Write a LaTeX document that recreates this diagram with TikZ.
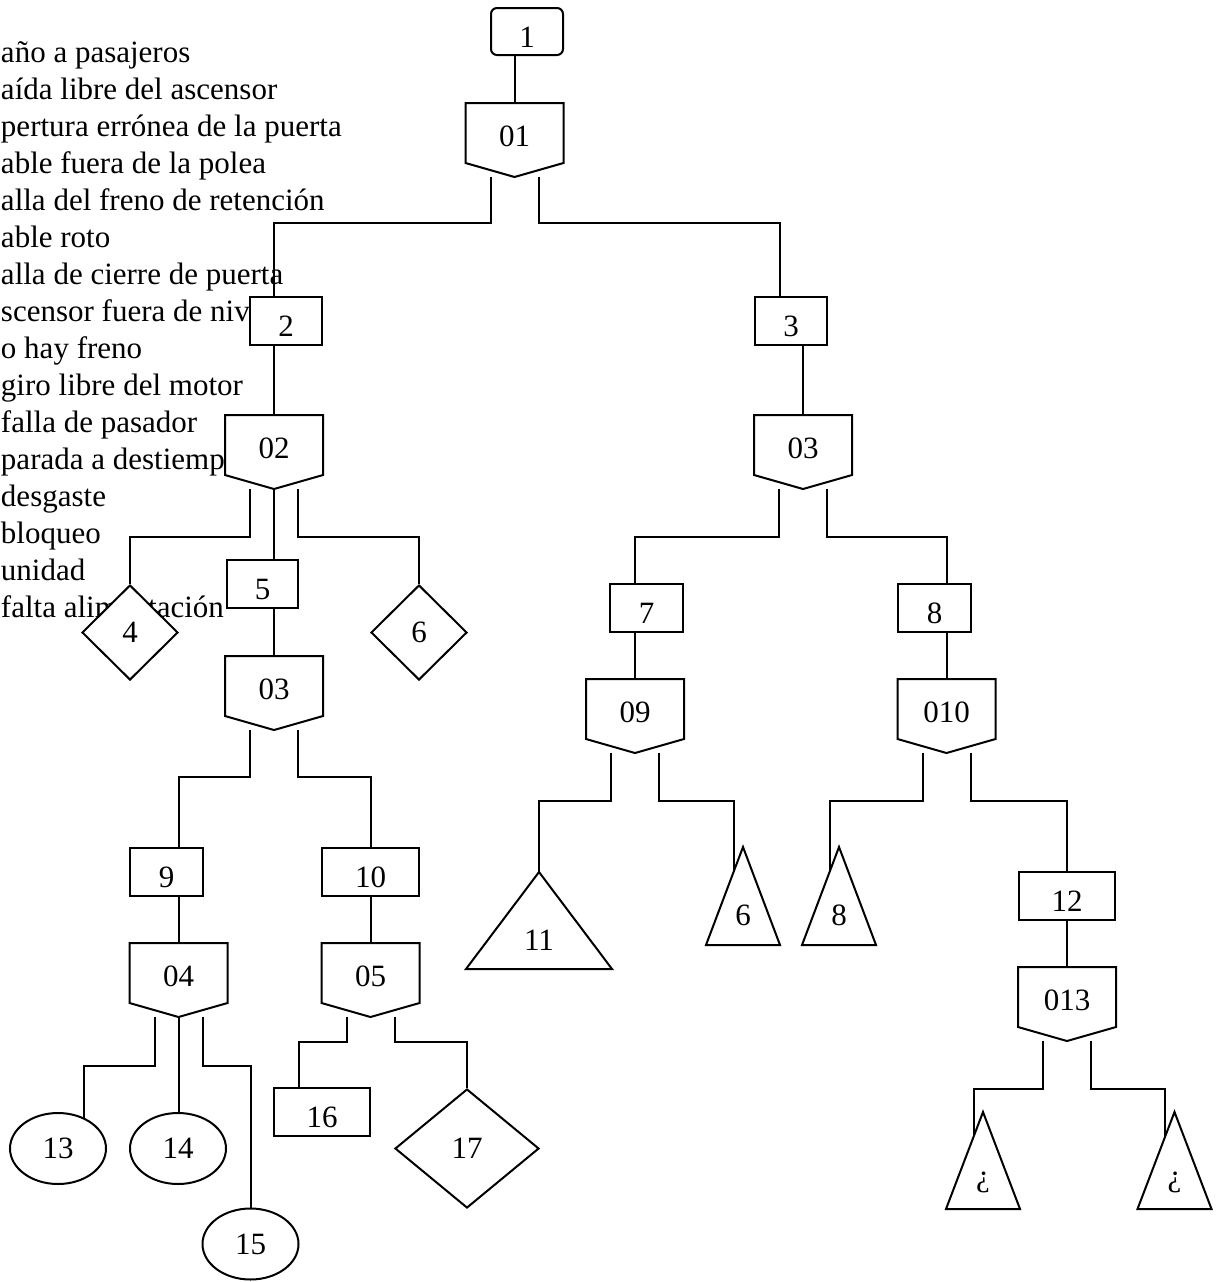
\documentclass[tikz,border=0pt]{standalone}
\usepackage{fontspec}
\setmainfont{Liberation Serif}
\usetikzlibrary{shapes.geometric,calc}

\begin{document}
\begin{tikzpicture}[x=1pt,y=-1pt,line width=2pt,
    every node/.style={font=\fontsize{31}{37}\selectfont,inner sep=0pt},
    legend/.style={anchor=base west},
    event/.style={draw,fill=white,minimum height=48pt,text height=31pt},
    gate/.style={fill=white,minimum width=96pt,minimum height=58pt,text height=27pt},
    basic/.style={draw,ellipse,fill=white,minimum width=96pt,minimum height=71pt},
    undev/.style={draw,diamond,fill=white,minimum width=96pt,minimum height=95pt},
    transfer/.style={minimum width=72pt,minimum height=96pt,text height=59pt}]

  \useasboundingbox (0,0) rectangle (1218,1282);

  % lista de eventos
  \foreach \txt [count=\i from 0] in {año a pasajeros, aída libre del ascensor,
      pertura errónea de la puerta, able fuera de la polea,
      alla del freno de retención, able roto, alla de cierre de puerta,
      scensor fuera de nivel, o hay freno, giro libre del motor,
      falla de pasador, parada a destiempo, desgaste, bloqueo, unidad,
      falta alimentación}
    \node[legend] (l\i) at (0,{62+37*\i}) {\txt};

  \node[event,rounded corners=6pt,minimum width=72pt,minimum height=47pt] (b1) at (527,31.5) {1};
  \node[gate] (g01) at (514.5,133) {01};
  \node[event,minimum width=72pt] (b2) at (286,321) {2};
  \node[event,minimum width=72pt] (b3) at (791,321) {3};
  \node[gate] (g02) at (274,445) {02};
  \node[gate] (g03r) at (803,445) {03};
  \node[undev] (d4) at (130,632.5) {4};
  \node[event,minimum width=71pt] (b5) at (262.5,584) {5};
  \node[undev] (d6) at (419,632.5) {6};
  \node[event,minimum width=73pt] (b7) at (646.5,608) {7};
  \node[event,minimum width=73pt] (b8) at (934.5,608) {8};
  \node[gate] (g03l) at (274,686) {03};
  \node[gate] (g09) at (635,709) {09};
  \node[gate] (g010) at (946.5,709) {010};
  \node[event,minimum width=73pt] (b9) at (166.5,872) {9};
  \node[event,minimum width=97pt] (b10) at (370.5,872) {10};
  \node[transfer,minimum width=144pt,minimum height=95pt] (t11) at (539,920.5) {11};
  \node[transfer] (t6) at (743,896) {6};
  \node[transfer] (t8) at (839,896) {8};
  \node[event,minimum width=96pt] (b12) at (1067,896) {12};
  \node[gate] (g04) at (178.5,973) {04};
  \node[gate] (g05) at (370.5,973) {05};
  \node[gate] (g013) at (1067,997) {013};
  \node[basic] (e13) at (58,1148.5) {13};
  \node[basic] (e14) at (178,1148.5) {14};
  \node[basic] (e15) at (250.5,1244) {15};
  \node[event,minimum width=96pt] (b16) at (322,1112) {16};
  \node[undev,minimum width=144pt,minimum height=119pt] (d17) at (467,1148.5) {17};
  \node[transfer,minimum height=95pt] (tq1) at (983,1160.5) {¿};
  \node[transfer,minimum height=95pt] (tq2) at (1174.5,1160.5) {¿};

  % contornos de compuertas y triangulos
  \foreach \g in {g01,g02,g03l,g03r,g04,g05,g09,g010,g013}
    \draw (\g.north west) -- (\g.north east) -- (\g.south east)
      -- ([yshift=-14pt]\g.south) -- (\g.south west) -- cycle;
  \foreach \t in {t11,t6,t8,tq1,tq2}
    \draw (\t.north) -- (\t.south east) -- (\t.south west) -- cycle;

  % conexiones
  \draw (g01.north) -- (g01.north |- b1.south);
  \draw ([xshift=-24pt,yshift=-14pt]g01.south) -- ++(0,46) -| (g02.north |- b2.north);
  \draw ([xshift=24pt,yshift=-14pt]g01.south) -- ++(0,46) -| ([xshift=-11pt]b3.north);
  \draw (b2.south -| g02.north) -- (g02.north);
  \draw (b3.south -| g03r.north) -- (g03r.north);

  \draw ([xshift=-24pt,yshift=-14pt]g02.south) -- ++(0,48) -| (d4.north);
  \draw ([yshift=-14pt]g02.south) -- (b5.north -| g02.south);
  \draw ([xshift=24pt,yshift=-14pt]g02.south) -- ++(0,48) -| (d6.north);
  \draw (b5.south -| g03l.north) -- (g03l.north);

  \draw ([xshift=-24pt,yshift=-14pt]g03r.south) -- ++(0,48) -| (b7.north -| g09.north);
  \draw ([xshift=24pt,yshift=-14pt]g03r.south) -- ++(0,48) -| (b8.north -| g010.north);
  \draw (b7.south -| g09.north) -- (g09.north);
  \draw (b8.south -| g010.north) -- (g010.north);

  \draw ([xshift=-24pt,yshift=-14pt]g03l.south) -- ++(0,47) -| (b9.north -| g04.north);
  \draw ([xshift=24pt,yshift=-14pt]g03l.south) -- ++(0,47) -| (b10.north);
  \draw (b9.south -| g04.north) -- (g04.north);
  \draw (b10.south) -- (g05.north);

  \draw ([xshift=-24pt,yshift=-14pt]g09.south) -- ++(0,48) -| (t11.north);
  \draw ([xshift=24pt,yshift=-14pt]g09.south) -- ++(0,48) -| ($(t6.north)!0.25!(t6.south west)$);
  \draw ([xshift=-24pt,yshift=-14pt]g010.south) -- ++(0,48) -| ($(t8.north)!0.25!(t8.south west)$);
  \draw ([xshift=24pt,yshift=-14pt]g010.south) -- ++(0,48) -| (b12.north);
  \draw (b12.south) -- (g013.north);

  \draw ([xshift=-24pt,yshift=-14pt]g04.south) -- ++(0,49) -| (e13.50);
  \draw ([yshift=-14pt]g04.south) -- (e14.north -| g04.south);
  \draw ([xshift=24pt,yshift=-14pt]g04.south) -- ++(0,49) -| (e15.north);
  \draw ([xshift=-24pt,yshift=-14pt]g05.south) -- ++(0,25) -| ([xshift=-23pt]b16.north);
  \draw ([xshift=24pt,yshift=-14pt]g05.south) -- ++(0,25) -| (d17.north);

  \draw ([xshift=-24pt,yshift=-14pt]g013.south) -- ++(0,48) -| ($(tq1.north)!0.25!(tq1.south west)$);
  \draw ([xshift=24pt,yshift=-14pt]g013.south) -- ++(0,48) -| ($(tq2.north)!0.25!(tq2.south west)$);
\end{tikzpicture}
\end{document}
